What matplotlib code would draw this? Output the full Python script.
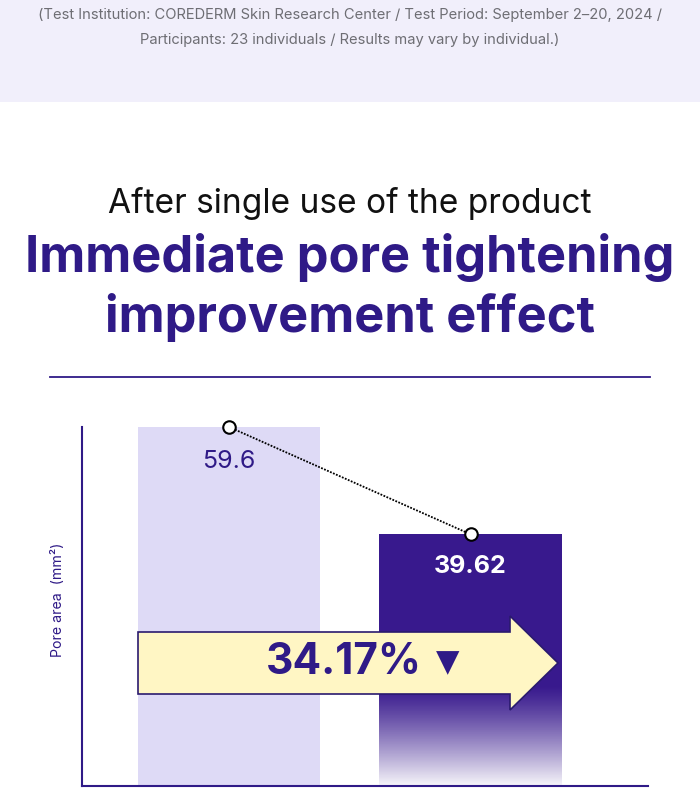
import numpy as np
import matplotlib.pyplot as plt
from matplotlib.patches import Polygon, Rectangle
from matplotlib.lines import Line2D

plt.rcParams['font.family'] = ['Inter', 'DejaVu Sans']

# данные
groups = ['Before', 'After']
values = [59.6, 39.62]
value_labels = ['59.6', '39.62']
change_label = '34.17%'
y_min = -7.25

W, H = 700, 800
PURPLE = '#2f1a87'
BAR_LIGHT = '#dedaf6'
BAR_DARK = '#38198d'
BAND = '#f1effb'
ARROW_FILL = '#fff6c4'


def fx(px):
    return px / W


def fy(py):
    return 1 - py / H


fig = plt.figure(figsize=(7, 8), dpi=100)
fig.patch.set_facecolor('white')

# верхняя полоса
fig.add_artist(Rectangle((0, fy(102)), 1, 102 / H, transform=fig.transFigure,
                         facecolor=BAND, edgecolor='none', zorder=0))
fig.text(0.5, fy(15), '(Test Institution: COREDERM Skin Research Center / Test Period: September 2–20, 2024 /',
         ha='center', va='center', fontsize=10.6, color='#6e6e74')
fig.text(0.5, fy(40), 'Participants: 23 individuals / Results may vary by individual.)',
         ha='center', va='center', fontsize=10.6, color='#6e6e74')

# заголовки
fig.text(0.5, fy(204), 'After single use of the product', ha='center', va='center',
         fontsize=24.1, color='#111111')
fig.text(0.5, fy(257), 'Immediate pore tightening', ha='center', va='center',
         fontsize=36.4, fontweight='bold', color=PURPLE)
fig.text(0.5, fy(318), 'improvement effect', ha='center', va='center',
         fontsize=36.4, fontweight='bold', color=PURPLE)
fig.add_artist(Line2D([fx(50), fx(650)], [fy(377), fy(377)], transform=fig.transFigure,
                      color=PURPLE, lw=1.3))

# оси
ax = fig.add_axes([fx(82), fy(786), (648 - 82) / W, (786 - 427) / H])
x = np.arange(len(groups))
width = 0.754

bars = ax.bar(x, [v - y_min for v in values], bottom=y_min, width=width,
              color=[BAR_LIGHT, BAR_DARK], zorder=1)

# градиент внизу второго столбика
fade_top = 11.5
grad = np.linspace(0.97, 0.0, 200).reshape(-1, 1) ** 1.2
rgba = np.ones((200, 1, 4))
rgba[..., 3] = grad
ax.imshow(rgba, extent=[x[1] - width / 2, x[1] + width / 2, y_min, fade_top],
          aspect='auto', origin='lower', zorder=2)
ax.set_xlim(-0.609, 1.735)
ax.set_ylim(y_min, values[0])

# пунктир и кружки
ax.plot(x, values, ls=(0, (1, 0.8)), color='black', lw=1.3, zorder=4, clip_on=False)
ax.plot(x, values, 'o', ms=9, mfc='white', mec='black', mew=1.5, zorder=5, clip_on=False)

ax.text(x[0], values[0] - 6.4, value_labels[0], ha='center', va='center',
        fontsize=18, color=PURPLE)
ax.text(x[1], values[1] - 6.0, value_labels[1], ha='center', va='center',
        fontsize=18, fontweight='bold', color='white', zorder=6)

for s in ['top', 'right']:
    ax.spines[s].set_visible(False)
for s in ['left', 'bottom']:
    ax.spines[s].set_color(PURPLE)
    ax.spines[s].set_linewidth(1.5)
ax.set_xticks([])
ax.set_yticks([])
ax.set_facecolor('none')

fig.text(fx(58), fy(600), 'Pore area  (mm²)', rotation=90, ha='center', va='center',
         fontsize=10.2, color=PURPLE)

# стрелка
arrow_px = [(138, 632), (510, 632), (510, 616), (558, 663), (510, 710), (510, 694), (138, 694)]
fig.add_artist(Polygon([(fx(a), fy(b)) for a, b in arrow_px], closed=True,
                       transform=fig.transFigure, facecolor=ARROW_FILL,
                       edgecolor='#2a1a6e', lw=1.2, zorder=10))
fig.text(fx(344), fy(663), change_label, ha='center', va='center', fontsize=30.5,
         fontweight='bold', color=PURPLE, zorder=11)
fig.text(fx(448), fy(663), '▼', ha='center', va='center', fontsize=22,
         color=PURPLE, zorder=11, family=['DejaVu Sans'])

fig.savefig('out.png', dpi=100)
